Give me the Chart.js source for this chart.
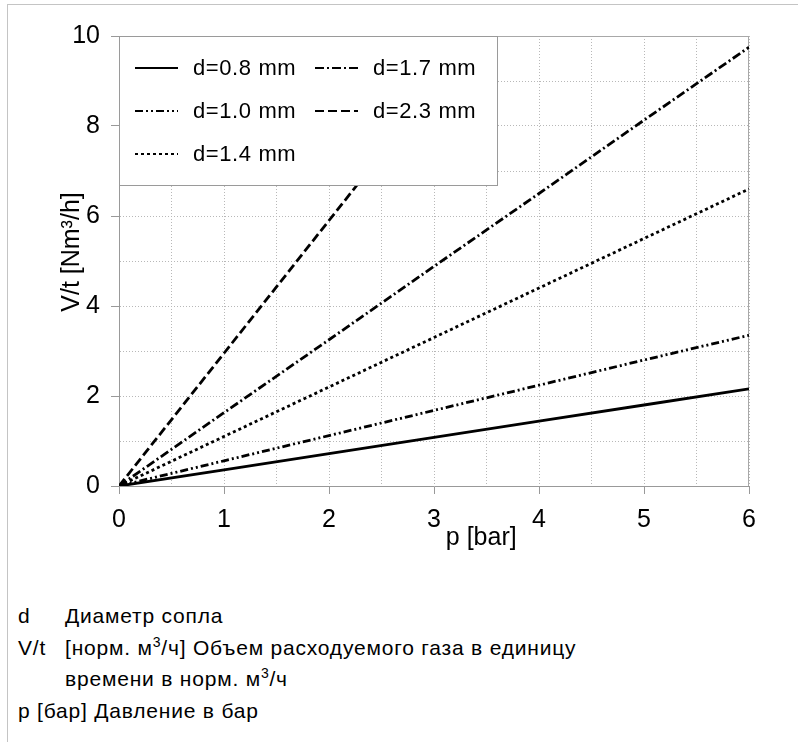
<!DOCTYPE html>
<html>
<head>
<meta charset="utf-8">
<script src="https://cdn.jsdelivr.net/npm/chart.js@4"></script>
<style>
  body { margin: 0; background: #fff; font-family: 'Liberation Sans', Arial, sans-serif; }
  #frame { position: absolute; left: 7px; top: 4px; width: 800px; height: 760px;
           border-top: 1px solid #c4c4c4; border-left: 1px solid #c4c4c4; }
  #wrap { position: absolute; left: 0; top: 0; width: 798px; height: 570px; }
  #notes { position: absolute; left: 18px; top: 600px; font-size: 21px; line-height: 31.5px;
           letter-spacing: 0.8px; color: #000; }
  #notes .row { display: flex; white-space: nowrap; }
  #notes .key { width: 47px; }
  #notes sup { font-size: 14px; line-height: 0; vertical-align: 8px; }
</style>
</head>
<body>
<div id="frame"></div>
<div id="wrap"><canvas id="flowChart"></canvas></div>
<div id="notes">
  <div class="row"><span class="key">d</span><span>Диаметр сопла</span></div>
  <div class="row"><span class="key">V/t</span><span>[норм. м<sup>3</sup>/ч] Объем расходуемого газа в единицу</span></div>
  <div class="row"><span class="key"></span><span>времени в норм. м<sup>3</sup>/ч</span></div>
  <div class="row"><span>p [бар] Давление в бар</span></div>
</div>
<script>
// Data
const pressure = [0, 1, 2, 3, 4, 5, 6];
const labels = ['d=0.8 mm', 'd=1.0 mm', 'd=1.4 mm', 'd=1.7 mm', 'd=2.3 mm'];
const flow08 = [0, 0.36, 0.72, 1.08, 1.44, 1.80, 2.16];
const flow10 = [0, 0.56, 1.12, 1.68, 2.24, 2.80, 3.35];
const flow14 = [0, 1.10, 2.20, 3.30, 4.40, 5.50, 6.60];
const flow17 = [0, 1.63, 3.25, 4.88, 6.50, 8.13, 9.75];
const flow23 = [0, 2.95, 5.90, 8.85, 11.80, 14.75, 17.70];

const FONT = "'Liberation Sans', Arial, sans-serif";
const dashes = [[], [8, 3, 2, 3, 2, 3], [3, 3], [9, 3, 2, 3], [9, 4]];
const series = [flow08, flow10, flow14, flow17, flow23];

const datasets = series.map((vals, i) => ({
    label: labels[i],
    data: pressure.map((p, k) => ({ x: p, y: vals[k] })),
    borderColor: '#000',
    borderWidth: 2.8,
    borderDash: dashes[i],
    pointRadius: 0,
    fill: false,
    tension: 0
}));

// Frame on top/right of plot, legend box and axis titles
const decorations = {
    id: 'decorations',
    beforeDatasetsDraw(chart) {
        const { ctx, chartArea: a } = chart;
        ctx.save();
        ctx.strokeStyle = '#a8a8a8';
        ctx.lineWidth = 1;
        ctx.beginPath();
        ctx.moveTo(a.left, a.top + 0.5);
        ctx.lineTo(a.right, a.top + 0.5);
        ctx.moveTo(a.right - 0.5, a.top);
        ctx.lineTo(a.right - 0.5, a.bottom);
        ctx.stroke();
        ctx.restore();
    },
    afterDatasetsDraw(chart) {
        const { ctx, chartArea: a } = chart;
        const boxW = 378, boxH = 149;
        ctx.save();
        ctx.fillStyle = '#fff';
        ctx.fillRect(a.left + 1, a.top + 1, boxW - 1, boxH - 1);
        ctx.strokeStyle = '#9a9a9a';
        ctx.lineWidth = 1;
        ctx.strokeRect(a.left + 0.5, a.top + 0.5, boxW, boxH);

        ctx.font = '22px ' + FONT;
        ctx.letterSpacing = '0.6px';
        ctx.fillStyle = '#000';
        ctx.textBaseline = 'middle';
        chart.data.datasets.forEach((ds, i) => {
            const col = Math.floor(i / 3), row = i % 3;
            const x0 = a.left + 16 + col * 180;
            const y0 = a.top + 32 + row * 43;
            ctx.strokeStyle = '#000';
            ctx.lineWidth = 2.2;
            ctx.setLineDash(ds.borderDash);
            ctx.beginPath();
            ctx.moveTo(x0, y0);
            ctx.lineTo(x0 + 43, y0);
            ctx.stroke();
            ctx.setLineDash([]);
            ctx.fillText(ds.label, x0 + 58, y0 + 1);
        });
        ctx.restore();
    },
    afterDraw(chart) {
        const { ctx, chartArea: a } = chart;
        const xs = chart.scales.x, ys = chart.scales.y;
        ctx.save();
        ctx.fillStyle = '#000';
        ctx.font = '25px ' + FONT;
        ctx.textAlign = 'center';
        ctx.textBaseline = 'alphabetic';
        ctx.fillText('p [bar]', xs.getPixelForValue(3.45), a.bottom + 59);
        ctx.translate(a.left - 40, ys.getPixelForValue(5.2));
        ctx.rotate(-Math.PI / 2);
        ctx.fillText('V/t [Nm³/h]', 0, 0);
        ctx.restore();
    }
};

const ctx = document.getElementById('flowChart').getContext('2d');
const myChart = new Chart(ctx, {
    type: 'line',
    data: { datasets },
    options: {
        responsive: true,
        maintainAspectRatio: false,
        animation: false,
        devicePixelRatio: 1,
        layout: { padding: { left: 0, top: 36, right: 49, bottom: 0 } },
        plugins: { legend: { display: false }, tooltip: { enabled: false } },
        scales: {
            x: {
                type: 'linear', min: 0, max: 6,
                ticks: {
                    stepSize: 0.5, autoSkip: false, maxRotation: 0, padding: 11,
                    color: '#000', font: { size: 25, family: FONT },
                    callback: v => Number.isInteger(v) ? v : ''
                },
                grid: {
                    color: '#b8b8b8', tickLength: 8,
                    tickColor: c => (c.tick && Number.isInteger(c.tick.value)) ? '#999' : 'rgba(0,0,0,0)'
                },
                border: { color: '#999', dash: [1, 2] },
                afterFit: s => { s.height = 84; }
            },
            y: {
                type: 'linear', min: 0, max: 10,
                ticks: {
                    stepSize: 1, padding: 11,
                    color: '#000', font: { size: 25, family: FONT },
                    callback: v => v % 2 === 0 ? v : ''
                },
                grid: {
                    color: '#b8b8b8', tickLength: 8,
                    tickColor: c => (c.tick && c.tick.value % 2 === 0) ? '#999' : 'rgba(0,0,0,0)'
                },
                border: { color: '#999', dash: [1, 2] },
                afterFit: s => { s.width = 119; }
            }
        }
    },
    plugins: [decorations]
});
</script>
</body>
</html>
